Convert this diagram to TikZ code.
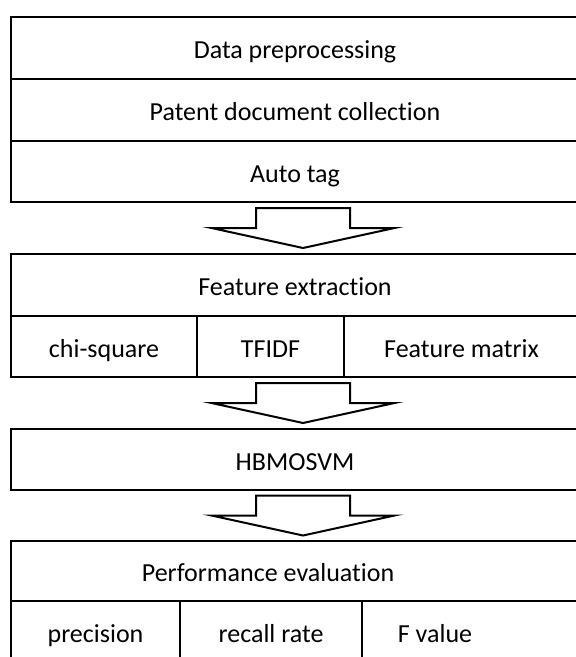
\documentclass[tikz,border=0pt]{standalone}
\usepackage{fontspec}
\setmainfont{Carlito}[Ligatures={NoCommon}]
\usetikzlibrary{positioning,calc}

\tikzset{
  txt/.style={inner sep=0pt, outer sep=0pt, text height=26pt, text depth=5pt},
  cell/.style={txt, draw, line width=2pt, minimum width=568, minimum height=62},
  pics/downarrow/.style={code={
    \draw[fill=white, line width=2pt, line join=miter] (-47,20) -- (47,20) -- (47,0) -- (91.5,0) -- (0,-20) -- (-91.5,0) -- (-47,0) -- cycle;
  }}
}

\begin{document}
\begin{tikzpicture}[x=1pt,y=1pt,yscale=-1,xscale=1,font=\fontsize{26}{31}\selectfont]
\useasboundingbox (0,0) rectangle (576,657);
\clip (0,0) rectangle (576,657);

\node[cell, anchor=north west] (prep) at (11,17) {Data preprocessing};
\node[cell, below=0pt of prep] (collect) {Patent document collection};
\node[cell, below=0pt of collect, minimum height=61] (tag) {Auto tag};

\node[cell, anchor=north west] (feat) at (11,254) {Feature extraction};
\node[cell, minimum width=186, minimum height=61, anchor=north west] (chi) at (feat.south west) {chi-square};
\node[cell, minimum width=147, minimum height=61, right=0pt of chi] (tfidf) {TFIDF};
\node[cell, minimum width=235, minimum height=61, right=0pt of tfidf] (fmat) {Feature matrix};

\node[cell, anchor=north west, minimum height=61] (hb) at (11,429) {HBMOSVM};

\node[cell, anchor=north west, minimum height=60] (perf) at (11,541) {};
\node[txt] (perftxt) at ([xshift=-27]perf.center) {Performance evaluation};
\node[cell, minimum width=169, minimum height=61, anchor=north west] (prec) at (perf.south west) {precision};
\node[cell, minimum width=182, minimum height=61, right=0pt of prec] (recall) {recall rate};
\node[cell, minimum width=217, minimum height=61, right=0pt of recall] (fval) {};
\node[txt] (fvaltxt) at ([xshift=-35.5]fval.center) {F value};

\pic at ($(tag.south)!0.5!(feat.north)+(8,0)$) {downarrow};
\pic at ($(fmat.south -| feat.south)!0.5!(hb.north)+(8,0)$) {downarrow};
\pic at ($(hb.south)!0.5!(perf.north)+(8,0)$) {downarrow};
\end{tikzpicture}
\end{document}
